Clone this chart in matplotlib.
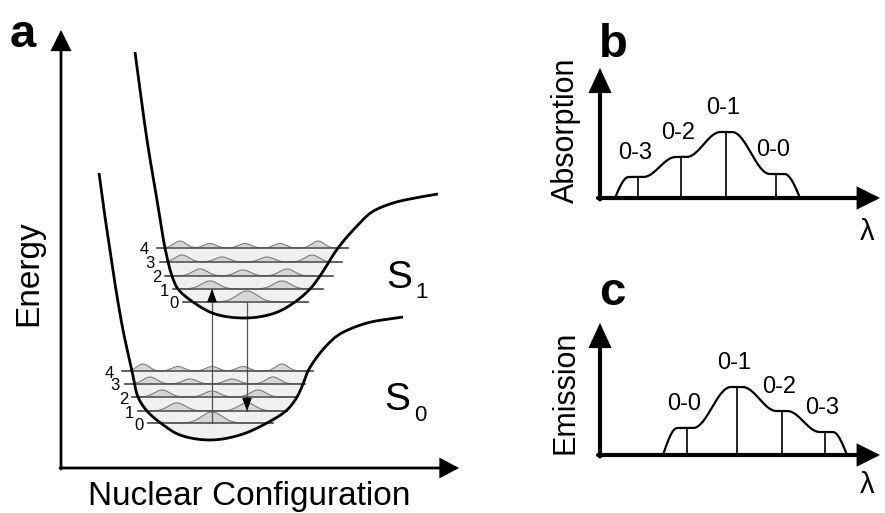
import matplotlib.pyplot as plt
import numpy as np

plt.rcParams['font.family'] = ['Liberation Sans', 'DejaVu Sans']

W, H = 885, 513

# ---- panel a: potential curves (nuclear coordinate, energy)
s1_q = [74, 86, 96, 104, 111, 117, 132, 154, 186, 214, 234, 249, 259, 277, 296, 311, 332, 354, 377]
s1_e = [416, 328, 268, 220, 192, 179, 166, 154, 150, 155, 166, 179, 192, 220, 242, 256, 265, 270, 274]
s0_q = [38, 43, 49, 55, 62, 71, 77, 86, 101, 119, 149, 179, 206, 226, 236, 242, 247, 256, 267, 279, 306, 342]
s0_e = [295, 258, 218, 178, 138, 97, 71, 57, 44, 33, 28, 33, 45, 58, 71, 84, 97, 111, 124, 134, 145, 151]

# vibrational levels v = 0..4 (energy, left end, right end)
s1_lev_e = [166, 179, 192, 206, 220]
s1_lev_lo = [122, 112, 104, 99, 96]
s1_lev_hi = [247, 262, 272, 281, 287]
s0_lev_e = [45, 57, 71, 84, 97]
s0_lev_lo = [87, 77, 71, 64, 61]
s0_lev_hi = [212, 226, 236, 244, 252]

# probability density humps on each level
s1_hump_q = [[186], [149, 221], [139, 182, 226], [121, 161, 206, 251], [119, 149, 184, 219, 257]]
s0_hump_q = [[151], [116, 186], [101, 151, 197], [89, 129, 171, 212], [82, 117, 151, 182, 221]]
hump_h = [[11], [8, 8], [7, 6, 7], [7, 5, 5, 7], [7, 4.5, 4.5, 4.5, 7]]
hump_w = [10, 8.5, 7.5, 7, 6]

# vertical transitions: (coordinate, from energy, to energy)
absorb = (151, 45, 179)
emit = (186, 166, 57)

# ---- panels b, c: vibronic progressions
abs_lam = [38, 81, 126, 176]
abs_int = [21, 41, 66, 24]
abs_lab = ['0-3', '0-2', '0-1', '0-0']
abs_edge = [15, 200]
em_lam = [87, 137, 182, 225]
em_int = [27, 68, 44, 23]
em_lab = ['0-0', '0-1', '0-2', '0-3']
em_edge = [63, 247]


def smooth(xs, ys, n=30):
        # centripetal catmull-rom through the read points
        p = np.column_stack([xs, ys]).astype(float)
        p = np.vstack([2*p[0] - p[1], p, 2*p[-1] - p[-2]])
        out = []
        for i in range(1, len(p) - 2):
                p0, p1, p2, p3 = p[i-1], p[i], p[i+1], p[i+2]
                t0 = 0.0
                t1 = t0 + np.linalg.norm(p1 - p0)**0.5
                t2 = t1 + np.linalg.norm(p2 - p1)**0.5
                t3 = t2 + np.linalg.norm(p3 - p2)**0.5
                t = np.linspace(t1, t2, n)[:, None]
                a1 = (t1-t)/(t1-t0)*p0 + (t-t0)/(t1-t0)*p1
                a2 = (t2-t)/(t2-t1)*p1 + (t-t1)/(t2-t1)*p2
                a3 = (t3-t)/(t3-t2)*p2 + (t-t2)/(t3-t2)*p3
                b1 = (t2-t)/(t2-t0)*a1 + (t-t0)/(t2-t0)*a2
                b2 = (t3-t)/(t3-t1)*a2 + (t-t1)/(t3-t1)*a3
                c = (t2-t)/(t2-t1)*b1 + (t-t1)/(t2-t1)*b2
                out.append(c if i == 1 else c[1:])
        c = np.vstack(out)
        return c[:, 0], c[:, 1]


def envelope(lam, inten, start, end, n=800):
        x = np.linspace(start, end, n)
        y = np.zeros(n)
        rise = start + 0.6*(lam[0] - start)
        fall = end - 0.65*(end - lam[-1])
        m = x <= rise
        y[m] = inten[0]*np.sin(0.5*np.pi*(x[m] - start)/(rise - start))
        m = (x > rise) & (x <= lam[0])
        y[m] = inten[0]
        for i in range(len(lam) - 1):
                m = (x > lam[i]) & (x <= lam[i+1])
                t = (x[m] - lam[i])/(lam[i+1] - lam[i])
                t = np.clip((t - 0.12)/0.76, 0, 1)
                y[m] = inten[i] + (inten[i+1] - inten[i])*(1 - np.cos(np.pi*t))/2
        m = (x > lam[-1]) & (x <= fall)
        y[m] = inten[-1]
        m = x > fall
        y[m] = inten[-1]*np.cos(0.5*np.pi*(x[m] - fall)/(end - fall))
        return x, y


fig = plt.figure(figsize=(W/100, H/100), dpi=100)


def px_axes(x0, y0, x1, y1):
        return fig.add_axes([x0/W, 1 - y0/H, (x1 - x0)/W, (y0 - y1)/H])


def ftext(x, y, s, **kw):
        fig.text(x/W, 1 - y/H, s, **kw)


def axis_arrow(ax, start, tip, lw, hl, hw):
        ax.annotate('', xy=tip, xytext=start, annotation_clip=False,
                    arrowprops=dict(arrowstyle='-|>,head_length=%g,head_width=%g' % (hl, hw),
                                    mutation_scale=1, color='k', lw=lw,
                                    shrinkA=0, shrinkB=0, joinstyle='miter'))


# ---------------- panel a
ax = px_axes(61, 468, 459, 30)
ax.set_xlim(0, 398)
ax.set_ylim(0, 438)
ax.set_axis_off()

axis_arrow(ax, (0, -1), (0, 438), 2, 12, 6)
axis_arrow(ax, (-1, 0), (398, 0), 2, 11, 5.8)

curves = [smooth(s1_q, s1_e), smooth(s0_q, s0_e)]
levels = [(s1_lev_e, s1_lev_lo, s1_lev_hi, s1_hump_q),
          (s0_lev_e, s0_lev_lo, s0_lev_hi, s0_hump_q)]
lab_gap = [4, 4, 4, 5, 8]   # staggered number labels

for (cq, ce), (le, lo, hi, hq) in zip(curves, levels):
        qq = np.linspace(cq.min(), cq.max(), 1500)
        ee = np.interp(qq, cq, ce)
        ax.fill_between(qq, ee, le[-1], where=ee < le[-1], interpolate=True,
                        color='#f0f0f0', lw=0, zorder=1)
        for v in range(len(le)):
                q = np.linspace(lo[v], hi[v], 400)
                y = np.full_like(q, float(le[v]))
                for c, h in zip(hq[v], hump_h[v]):
                        y += h*np.exp(-0.5*((q - c)/hump_w[v])**2)
                ax.fill_between(q, le[v], y, color='#d6d6d6', lw=0, zorder=2)
                ax.plot(q, y, color='#7a7a7a', lw=0.8, zorder=2)
                ax.plot([lo[v], hi[v]], [le[v], le[v]], color='#4a4a4a', lw=1.1, zorder=4)
                ax.text(lo[v] - lab_gap[v], le[v] - 2, str(v), fontsize=12,
                        ha='right', va='center', zorder=4)
        ax.plot(cq, ce, color='k', lw=2, zorder=6, solid_capstyle='butt')

for q, e0, e1 in [absorb, emit]:
        ax.plot([q, q], [e0, e1], color='#555555', lw=0.9, zorder=3)
        d = 10 if e1 > e0 else -10
        ax.annotate('', xy=(q, e1), xytext=(q, e1 - d),
                    arrowprops=dict(arrowstyle='-|>,head_length=8,head_width=3',
                                    mutation_scale=1, color='k', lw=0.8,
                                    shrinkA=0, shrinkB=0), zorder=5)

ftext(10, 47, 'a', fontsize=34, fontweight='bold', ha='left', va='baseline')
ftext(29, 273, 'Energy', fontsize=24, rotation=90, ha='center', va='center')
ftext(249, 505, 'Nuclear Configuration', fontsize=24, ha='center', va='baseline')
ftext(386, 288, 'S', fontsize=28, ha='left', va='baseline')
ftext(415, 298, '1', fontsize=16, ha='left', va='baseline')
ftext(384, 410, 'S', fontsize=28, ha='left', va='baseline')
ftext(414, 421, '0', fontsize=16, ha='left', va='baseline')

# ---------------- panels b and c
spectra = [(198, 68, abs_lam, abs_int, abs_lab, abs_edge, 'b', 57, 'Absorption', 130, 232),
           (455, 323, em_lam, em_int, em_lab, em_edge, 'c', 305, 'Emission', 392, 485)]

for y0, y1, lam, inten, lab, edge, letter, ly, name, ny, lamy in spectra:
        ax = px_axes(600, y0, 880, y1)
        ax.set_xlim(0, 280)
        ax.set_ylim(0, y0 - y1)
        ax.set_axis_off()
        axis_arrow(ax, (0, -1.5), (0, y0 - y1), 3, 13, 6)
        axis_arrow(ax, (-2, 0), (280, 0), 3, 12, 6)
        x, y = envelope(lam, inten, edge[0], edge[1])
        ax.plot(x, y, color='k', lw=1.6)
        ax.vlines(lam, 0, inten, color='k', lw=1.2)
        for l, i, t in zip(lam, inten, lab):
                ax.annotate(t, (l, i), xytext=(-2, 17), textcoords='offset points',
                            ha='center', va='center', fontsize=17)
        ftext(599, ly, letter, fontsize=34, fontweight='bold', ha='left', va='baseline')
        ftext(566, ny, name, fontsize=22, rotation=90, ha='center', va='center')
        ftext(867, lamy, 'λ', fontsize=21, ha='center', va='center')

fig.savefig('out.png', dpi=100)
